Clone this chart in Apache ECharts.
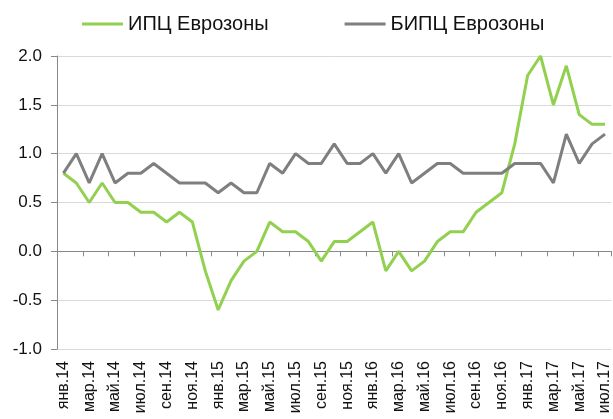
<!DOCTYPE html>
<html>
<head>
<meta charset="utf-8">
<script src="https://cdn.jsdelivr.net/npm/echarts@6/dist/echarts.min.js"></script>
<style>
  html, body { margin: 0; padding: 0; background: #fff; }
  #chart { width: 613px; height: 419px; }
</style>
</head>
<body>
<div id="chart"></div>
<script>
// months jan 2014 .. jul 2017
const monthNames = ['янв', 'фев', 'мар', 'апр', 'май', 'июн', 'июл', 'авг', 'сен', 'окт', 'ноя', 'дек'];
const years = ['14', '15', '16', '17'];
const categories = [];
years.forEach(y => {
  monthNames.forEach(m => categories.push(m + '.' + y));
});
categories.length = 43;

const cpi = [0.8, 0.7, 0.5, 0.7, 0.5, 0.5, 0.4, 0.4, 0.3, 0.4, 0.3, -0.2,
  -0.6, -0.3, -0.1, 0.0, 0.3, 0.2, 0.2, 0.1, -0.1, 0.1, 0.1, 0.2,
  0.3, -0.2, 0.0, -0.2, -0.1, 0.1, 0.2, 0.2, 0.4, 0.5, 0.6, 1.1,
  1.8, 2.0, 1.5, 1.9, 1.4, 1.3, 1.3];

const hicp = [0.8, 1.0, 0.7, 1.0, 0.7, 0.8, 0.8, 0.9, 0.8, 0.7, 0.7, 0.7,
  0.6, 0.7, 0.6, 0.6, 0.9, 0.8, 1.0, 0.9, 0.9, 1.1, 0.9, 0.9,
  1.0, 0.8, 1.0, 0.7, 0.8, 0.9, 0.9, 0.8, 0.8, 0.8, 0.8, 0.9,
  0.9, 0.9, 0.7, 1.2, 0.9, 1.1, 1.2];

const font = 'Liberation Sans, Arial, sans-serif';

var myChart = echarts.init(document.getElementById('chart'));
myChart.setOption({
  animation: false,
  textStyle: { fontFamily: font },
  legend: {
    top: 9,
    left: 77,
    icon: 'rect',
    itemWidth: 41,
    itemHeight: 3,
    itemGap: 76,
    textStyle: { fontSize: 20, color: '#111', fontFamily: font },
    data: ['ИПЦ Еврозоны', 'БИПЦ Еврозоны']
  },
  grid: { left: 57, right: 1, top: 56, bottom: 70 },
  xAxis: [
    {
      type: 'category',
      data: categories,
      position: 'bottom',
      axisLine: { show: false, onZero: false },
      axisTick: { show: false },
      axisLabel: {
        interval: 1,
        rotate: 90,
        margin: 12,
        fontSize: 16,
        color: '#111',
        fontFamily: font
      }
    },
    {
      type: 'category',
      data: categories,
      position: 'bottom',
      axisLine: { show: true, onZero: true, lineStyle: { color: '#888', width: 1 } },
      axisTick: { show: true, interval: 1, length: 5, lineStyle: { color: '#888' } },
      axisLabel: { show: false }
    }
  ],
  yAxis: {
    type: 'value',
    min: -1,
    max: 2,
    interval: 0.5,
    axisLine: { show: true, lineStyle: { color: '#888' } },
    axisTick: { show: true, length: 6, lineStyle: { color: '#888' } },
    axisLabel: {
      fontSize: 17,
      color: '#111',
      margin: 15,
      fontFamily: font,
      formatter: v => v.toFixed(1)
    },
    splitLine: { lineStyle: { color: '#d9d9d9', width: 1 } }
  },
  series: [
    {
      name: 'ИПЦ Еврозоны',
      type: 'line',
      data: cpi,
      symbol: 'none',
      itemStyle: { color: '#92d050' },
      lineStyle: { color: '#92d050', width: 3 }
    },
    {
      name: 'БИПЦ Еврозоны',
      type: 'line',
      data: hicp,
      symbol: 'none',
      itemStyle: { color: '#7f7f7f' },
      lineStyle: { color: '#7f7f7f', width: 3 }
    }
  ]
});
</script>
</body>
</html>
